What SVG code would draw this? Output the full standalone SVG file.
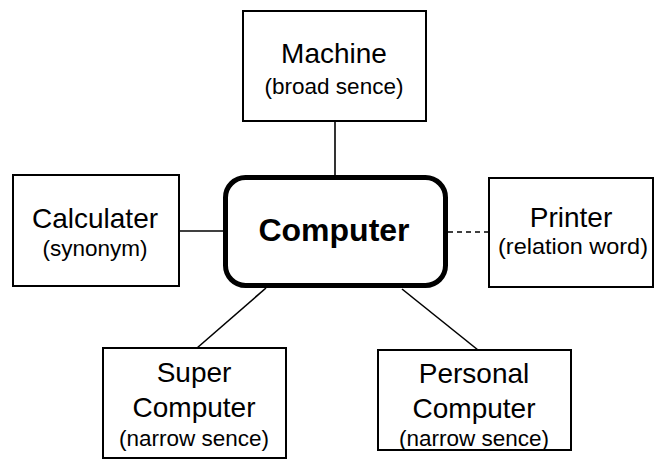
<svg xmlns="http://www.w3.org/2000/svg" width="656" height="460" viewBox="0 0 656 460">
<style>
.box{fill:#fff;stroke:#000;stroke-width:2}
.main{fill:#fff;stroke:#000;stroke-width:5}
.con{stroke:#000;stroke-width:1.6;fill:none}
.dash{stroke-dasharray:5 4}
text{font-family:"Liberation Sans",Arial,sans-serif;fill:#000;text-anchor:middle}
.t{font-size:28px}
.s{font-size:22.5px}
.b{font-size:32px;font-weight:bold}
</style>
<rect width="656" height="460" fill="#fff"/>
<g id="connectors">
<line class="con" x1="335" y1="121" x2="335" y2="176"/>
<line class="con" x1="179" y1="231" x2="223" y2="231"/>
<line class="con dash" x1="448" y1="232" x2="489" y2="232"/>
<line class="con" x1="266" y1="288" x2="197" y2="348"/>
<line class="con" x1="402" y1="289" x2="478" y2="350"/>
</g>
<g id="machine">
<rect class="box" x="243" y="11" width="183" height="110"/>
<text class="t" x="334" y="63">Machine</text>
<text class="s" x="334" y="94">(broad sence)</text>
</g>
<g id="calculater">
<rect class="box" x="13" y="175" width="166" height="111"/>
<text class="t" x="95" y="228">Calculater</text>
<text class="s" x="95" y="256">(synonym)</text>
</g>
<g id="computer">
<rect class="main" x="225.5" y="177.5" width="220" height="108" rx="20" ry="20"/>
<text class="b" x="334" y="241">Computer</text>
</g>
<g id="printer">
<rect class="box" x="489" y="178" width="164" height="109"/>
<text class="t" x="571" y="227">Printer</text>
<text class="s" x="573" y="254" textLength="150" lengthAdjust="spacingAndGlyphs">(relation word)</text>
</g>
<g id="super">
<rect class="box" x="103" y="348" width="183" height="110"/>
<text class="t" x="194" y="382">Super</text>
<text class="t" x="194" y="417">Computer</text>
<text class="s" x="194" y="446">(narrow sence)</text>
</g>
<g id="personal">
<rect class="box" x="378" y="350" width="193" height="100"/>
<text class="t" x="474" y="383">Personal</text>
<text class="t" x="474" y="418">Computer</text>
<text class="s" x="474" y="446">(narrow sence)</text>
</g>
</svg>
